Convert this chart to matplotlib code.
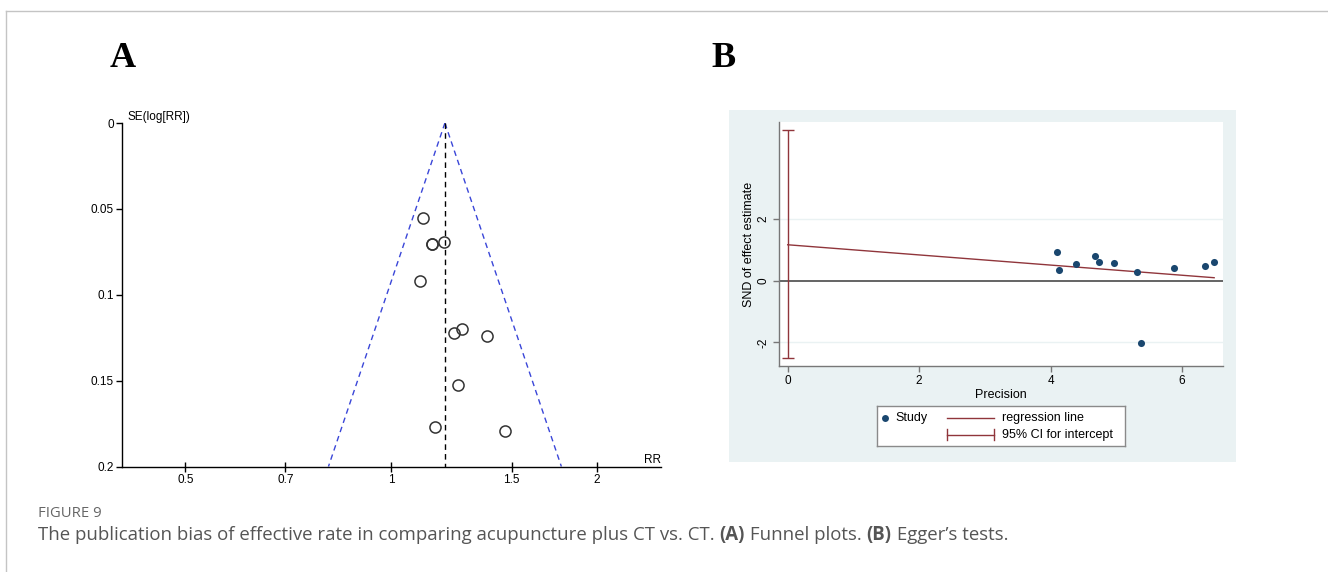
import numpy as np
import matplotlib
matplotlib.use('Agg')
import matplotlib.pyplot as plt
from matplotlib.patches import Rectangle
from matplotlib.lines import Line2D
from matplotlib.ticker import NullLocator, FixedLocator

# ---------------- Data ----------------
# Panel A: funnel plot (RR vs SE of log RR)
funnel_rr = [1.114, 1.147, 1.147, 1.193, 1.102, 1.270, 1.237, 1.380, 1.250, 1.159, 1.468]
funnel_se = [0.0552, 0.0705, 0.0706, 0.0690, 0.0922, 0.1200, 0.1223, 0.1242, 0.1525, 0.1771, 0.1795]
pooled_rr = 1.198
funnel_se_max = 0.2
funnel_xticks = [0.5, 0.7, 1, 1.5, 2]
funnel_xticklabels = ['0.5', '0.7', '1', '1.5', '2']
funnel_yticks = [0, 0.05, 0.1, 0.15, 0.2]
funnel_yticklabels = ['0', '0.05', '0.1', '0.15', '0.2']

# Panel B: Egger's test
precision = [4.10, 4.13, 4.39, 4.68, 4.73, 4.97, 5.32, 5.37, 5.88, 6.35, 6.49]
snd = [0.92, 0.35, 0.55, 0.82, 0.62, 0.59, 0.27, -2.03, 0.41, 0.47, 0.60]
egger_intercept = 1.17
egger_slope = -0.165
egger_ci = [-2.52, 4.89]
egger_xticks = [0, 2, 4, 6]
egger_yticks = [-2, 0, 2]

W, H = 1328, 572
fig = plt.figure(figsize=(W / 100, H / 100), dpi=100)
fig.patch.set_facecolor('white')


def box(x0, y0, x1, y1):
    return [x0 / W, 1 - y1 / H, (x1 - x0) / W, (y1 - y0) / H]


# border lines of the figure frame
fig.add_artist(Line2D([5.7 / W, 1], [1 - 11 / H, 1 - 11 / H], transform=fig.transFigure,
                      color='#c4c4c4', lw=1.0))
fig.add_artist(Line2D([5.7 / W, 5.7 / W], [0, 1 - 11 / H], transform=fig.transFigure,
                      color='#c4c4c4', lw=1.0))

# panel letters
fig.text(123 / W, 1 - 67.3 / H, 'A', fontsize=26, fontweight='bold', family='Liberation Serif',
         ha='center', va='baseline')
fig.text(724 / W, 1 - 67.3 / H, 'B', fontsize=26, fontweight='bold', family='Liberation Serif',
         ha='center', va='baseline')

# ---------------- Panel A ----------------
sans = 'Liberation Sans'
axA = fig.add_axes(box(121.5, 123, 661, 466.5))
axA.set_xscale('log')
lim = np.exp(0.908)
axA.set_xlim(1 / lim, lim)
axA.set_ylim(funnel_se_max, 0)
for s in ['top', 'right']:
    axA.spines[s].set_visible(False)
for s in ['left', 'bottom']:
    axA.spines[s].set_linewidth(1.0)
    axA.spines[s].set_color('black')

se_line = np.array([0, funnel_se_max])
lp = np.log(pooled_rr)
axA.plot(np.exp(lp - 1.96 * se_line), se_line, color='#3a46d8', lw=1.0, ls=(0, (4, 3)))
axA.plot(np.exp(lp + 1.96 * se_line), se_line, color='#3a46d8', lw=1.0, ls=(0, (4, 3)))
axA.plot([pooled_rr, pooled_rr], se_line, color='black', lw=1.0, ls=(0, (4, 3)))
axA.plot(funnel_rr, funnel_se, ls='none', marker='o', ms=8, mfc='none', mec='#333333', mew=1.1)

axA.xaxis.set_major_locator(FixedLocator(funnel_xticks))
axA.xaxis.set_minor_locator(NullLocator())
axA.set_xticklabels(funnel_xticklabels)
axA.set_yticks(funnel_yticks)
axA.set_yticklabels(funnel_yticklabels)
axA.tick_params(axis='x', direction='inout', length=7, width=1, pad=2, labelsize=8.5)
axA.tick_params(axis='y', direction='out', length=4, width=1, pad=1.5, labelsize=8.5)
for lab in axA.get_xticklabels() + axA.get_yticklabels():
    lab.set_family(sans)
axA.text(0.0102, 1.009, 'SE(log[RR])', transform=axA.transAxes, fontsize=8.5, family=sans,
         ha='left', va='baseline')
axA.text(1.0, 0.010, 'RR', transform=axA.transAxes, fontsize=8.5, family=sans,
         ha='right', va='baseline')

# ---------------- Panel B ----------------
bg = Rectangle((729 / W, 1 - 462.3 / H), (1236 - 729) / W, (462.3 - 110) / H,
               transform=fig.transFigure, facecolor='#eaf2f3', edgecolor='none', zorder=-10)
fig.add_artist(bg)

axB = fig.add_axes(box(779.3, 122.3, 1222.7, 365.7))
axB.set_zorder(1)
axB.set_facecolor('white')
axB.set_xlim(-0.128, 6.62)
axB.set_ylim(-2.76, 5.15)
for s in ['top', 'right']:
    axB.spines[s].set_visible(False)
for s in ['left', 'bottom']:
    axB.spines[s].set_linewidth(1.0)
    axB.spines[s].set_color('#777777')

for yv in [-2, 2]:
    axB.axhline(yv, color='#eaf2f3', lw=1.0, zorder=1)
axB.axhline(0, color='#4a4a4a', lw=1.2, zorder=2)

xs = np.array([0, max(precision)])
axB.plot(xs, egger_intercept + egger_slope * xs, color='#90353b', lw=1.0, zorder=3)
axB.errorbar([0], [egger_intercept],
             yerr=[[egger_intercept - egger_ci[0]], [egger_ci[1] - egger_intercept]],
             fmt='none', ecolor='#90353b', elinewidth=1.0, capsize=4, capthick=1.0, zorder=3)
axB.scatter(precision, snd, s=26, color='#1a476f', zorder=4, linewidths=0)

axB.set_xticks(egger_xticks)
axB.set_xticklabels([str(v) for v in egger_xticks])
axB.set_yticks(egger_yticks)
axB.set_yticklabels([str(v) for v in egger_yticks], rotation=90, va='center')
axB.tick_params(axis='both', direction='out', length=4, width=1, color='#777777',
                labelsize=8.5, pad=3)
for lab in axB.get_xticklabels() + axB.get_yticklabels():
    lab.set_family(sans)
axB.set_xlabel('Precision', fontsize=9, family=sans, labelpad=1)
axB.set_ylabel('SND of effect estimate', fontsize=9, family=sans, labelpad=1.5)

# legend box
axL = fig.add_axes(box(876.7, 405.8, 1125, 446))
axL.set_zorder(2)
axL.set_xlim(876.7, 1125)
axL.set_ylim(446, 405.8)
axL.set_xticks([])
axL.set_yticks([])
axL.set_facecolor('white')
for s in axL.spines.values():
    s.set_color('#8a8a8a')
    s.set_linewidth(1.0)
axL.plot([885], [418], ls='none', marker='o', ms=5, color='#1a476f', mew=0)
axL.text(895.6, 418, 'Study', fontsize=9, family=sans, va='center', ha='left')
axL.plot([947.4, 994], [418, 418], color='#90353b', lw=1.0)
axL.text(1002.4, 418, 'regression line', fontsize=9, family=sans, va='center', ha='left')
axL.plot([947.4, 994], [434.8, 434.8], color='#90353b', lw=1.0)
axL.plot([947.4, 947.4], [429.3, 440.3], color='#90353b', lw=1.0)
axL.plot([994, 994], [429.3, 440.3], color='#90353b', lw=1.0)
axL.text(1002.4, 434.8, '95% CI for intercept', fontsize=9, family=sans, va='center', ha='left')

# ---------------- Caption ----------------
cap_font = 'Open Sans'
fig.text(38 / W, 1 - 517 / H, 'FIGURE 9', fontsize=10.7, family=cap_font, color='#666666',
         ha='left', va='baseline')

pieces = [
    ('The publication bias of effective rate in comparing acupuncture plus CT vs. CT. ', 'normal'),
    ('(A)', 'bold'),
    (' Funnel plots. ', 'normal'),
    ('(B)', 'bold'),
    (' Egger\u2019s tests.', 'normal'),
]
renderer = fig.canvas.get_renderer()
xpos = 38.0
for txt, wt in pieces:
    t = fig.text(xpos / W, 1 - 540 / H, txt, fontsize=13.4, family=cap_font, color='#555555',
                 fontweight=wt, ha='left', va='baseline')
    bb = t.get_window_extent(renderer=renderer)
    xpos += bb.width

fig.savefig('out.png', dpi=100, facecolor='white')
